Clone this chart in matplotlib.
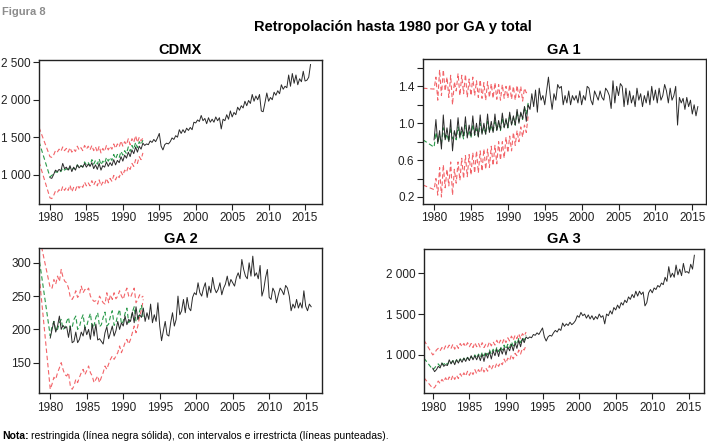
import numpy as np
import matplotlib
matplotlib.use("Agg")
from matplotlib import pyplot as plt
from matplotlib.ticker import FuncFormatter

plt.rcParams["font.family"] = ["Liberation Sans Narrow", "Liberation Sans", "DejaVu Sans"]

# trimestres: serie restringida 1980T1-2015T4, intervalos 1980T1-1992T4 (+ punto inicial)
anios = np.arange(1980, 2016, 0.25)
anios_ic = np.arange(1980, 1993, 0.25)

# ---------------- CDMX
cdmx = [960, 950, 1000, 1060, 1040, 1070, 1050, 1150, 1080, 1100, 1060, 1120,
        1040, 1100, 1060, 1130, 1090, 1120, 1100, 1150, 1100, 1140, 1110, 1160,
        1080, 1130, 1070, 1150, 1060, 1120, 1100, 1170, 1110, 1160, 1120, 1200,
        1130, 1190, 1160, 1240, 1180, 1260, 1220, 1300, 1240, 1330, 1280, 1370,
        1300, 1380, 1340, 1420, 1390, 1410, 1400, 1450, 1430, 1470, 1440, 1490,
        1550, 1380, 1330, 1400, 1420, 1410, 1440, 1490, 1470, 1520, 1500, 1600,
        1550, 1600, 1560, 1620, 1590, 1630, 1600, 1700, 1690, 1730, 1710, 1790,
        1720, 1750, 1680, 1760, 1700, 1740, 1700, 1770, 1720, 1760, 1610, 1740,
        1720, 1800, 1740, 1850, 1770, 1830, 1800, 1900, 1860, 1920, 1890, 1980,
        1920, 1990, 1950, 2070, 1980, 2050, 2000, 2070, 1850, 1840, 1960, 2090,
        1980, 2030, 2000, 2100, 2060, 2120, 2080, 2200, 2140, 2180, 2160, 2330,
        2180, 2350, 2220, 2330, 2200, 2280, 2240, 2380, 2250, 2260, 2300, 2470]
cdmx_irr = [1440,
            970, 990, 1010, 1040, 1030, 1060, 1040, 1090, 1060, 1080, 1050, 1100,
            1060, 1090, 1070, 1130, 1100, 1120, 1100, 1170, 1130, 1160, 1120, 1200,
            1140, 1190, 1140, 1210, 1130, 1180, 1150, 1230, 1180, 1230, 1190, 1270,
            1210, 1270, 1230, 1310, 1260, 1320, 1280, 1370, 1310, 1390, 1340, 1430,
            1360, 1440, 1400, 1460]
cdmx_sup = [1630,
            1240, 1230, 1260, 1320, 1300, 1340, 1310, 1370, 1320, 1350, 1300, 1360,
            1300, 1340, 1310, 1380, 1330, 1360, 1320, 1390, 1340, 1380, 1330, 1390,
            1320, 1370, 1300, 1380, 1290, 1350, 1310, 1390, 1330, 1380, 1340, 1410,
            1350, 1410, 1370, 1450, 1380, 1440, 1400, 1480, 1400, 1480, 1430, 1520,
            1430, 1500, 1450, 1490]
cdmx_inf = [1170,
            690, 680, 720, 780, 760, 800, 770, 840, 790, 830, 790, 860,
            770, 830, 790, 860, 820, 860, 830, 900, 850, 890, 850, 920,
            860, 910, 850, 930, 850, 900, 870, 950, 890, 950, 910, 990,
            930, 990, 960, 1040, 990, 1060, 1030, 1110, 1070, 1150, 1110, 1200,
            1150, 1240, 1200, 1290]

# ---------------- GA 1
ga1 = [0.82, 1.04, 0.78, 0.92, 0.72, 1.09, 0.82, 0.95, 0.80, 1.04, 0.70, 0.92,
       0.84, 1.06, 0.85, 0.96, 0.86, 1.07, 0.84, 0.98, 0.86, 1.08, 0.87, 1.00,
       0.85, 1.09, 0.88, 1.00, 0.88, 1.10, 0.90, 1.02, 0.90, 1.10, 0.92, 1.03,
       0.93, 1.11, 0.95, 1.05, 0.95, 1.12, 0.98, 1.08, 0.98, 1.15, 1.00, 1.12,
       1.05, 1.18, 1.02, 1.20, 1.15, 1.32, 1.18, 1.36, 1.12, 1.38, 1.25, 1.30,
       1.20, 1.35, 1.50, 1.30, 1.15, 1.32, 1.25, 1.42, 1.38, 1.40, 1.20, 1.30,
       1.22, 1.35, 1.20, 1.30, 1.25, 1.30, 1.22, 1.35, 1.20, 1.30, 1.25, 1.40,
       1.38, 1.25, 1.20, 1.35, 1.30, 1.25, 1.35, 1.28, 1.25, 1.38, 1.35, 1.30,
       1.16, 1.46, 1.22, 1.40, 1.30, 1.43, 1.40, 1.18, 1.38, 1.20, 1.35, 1.22,
       1.30, 1.18, 1.38, 1.25, 1.32, 1.18, 1.30, 1.22, 1.35, 1.20, 1.40, 1.25,
       1.36, 1.22, 1.38, 1.25, 1.30, 1.42, 1.35, 1.22, 1.38, 1.25, 1.30, 1.40,
       0.98, 1.28, 1.22, 1.27, 1.15, 1.28, 1.18, 1.25, 1.10, 1.20, 1.08, 1.18]
ga1_irr = [0.82,
           0.74, 0.90, 0.80, 0.86, 0.78, 0.95, 0.82, 0.88, 0.80, 0.95, 0.83, 0.90,
           0.82, 0.96, 0.84, 0.91, 0.83, 0.98, 0.86, 0.92, 0.84, 0.99, 0.87, 0.94,
           0.86, 1.00, 0.89, 0.96, 0.88, 1.02, 0.91, 0.98, 0.90, 1.04, 0.93, 1.00,
           0.92, 1.06, 0.96, 1.03, 0.95, 1.09, 0.99, 1.06, 0.98, 1.12, 1.02, 1.10,
           1.04, 1.18, 1.10, 1.22]
ga1_sup = [1.38,
           1.37, 1.50, 1.25, 1.58, 1.30, 1.58, 1.35, 1.50, 1.28, 1.52, 1.20, 1.45,
           1.35, 1.54, 1.30, 1.52, 1.32, 1.53, 1.28, 1.48, 1.30, 1.50, 1.30, 1.46,
           1.28, 1.47, 1.27, 1.44, 1.25, 1.45, 1.28, 1.43, 1.27, 1.44, 1.26, 1.42,
           1.25, 1.42, 1.27, 1.40, 1.27, 1.42, 1.26, 1.40, 1.25, 1.41, 1.28, 1.40,
           1.24, 1.38, 1.33, 1.36]
ga1_inf = [0.33,
           0.28, 0.40, 0.22, 0.52, 0.20, 0.55, 0.30, 0.50, 0.32, 0.58, 0.22, 0.50,
           0.35, 0.58, 0.38, 0.62, 0.40, 0.65, 0.42, 0.66, 0.44, 0.68, 0.46, 0.70,
           0.46, 0.70, 0.48, 0.72, 0.50, 0.72, 0.52, 0.75, 0.54, 0.76, 0.56, 0.80,
           0.60, 0.80, 0.62, 0.85, 0.68, 0.86, 0.70, 0.90, 0.76, 0.92, 0.80, 0.96,
           0.85, 0.98, 0.90, 1.08]

# ---------------- GA 2
ga2 = [187, 200, 212, 196, 205, 220, 200, 206, 202, 204, 188, 205,
       180, 182, 196, 180, 185, 196, 190, 204, 192, 200, 185, 208,
       190, 208, 184, 186, 182, 178, 195, 204, 186, 195, 205, 190,
       198, 212, 200, 210, 205, 220, 207, 215, 212, 226, 210, 234,
       215, 222, 218, 232, 212, 225, 215, 238, 210, 222, 212, 240,
       205, 183, 198, 212, 192, 190, 210, 225, 205, 215, 250, 222,
       228, 245, 225, 248, 232, 228, 248, 255, 252, 270, 255, 250,
       262, 270, 248, 265, 255, 278, 262, 255, 260, 270, 252, 262,
       268, 280, 265, 275, 270, 265, 278, 285, 276, 305, 290, 280,
       276, 300, 280, 310, 280, 285, 276, 296, 250, 260, 278, 290,
       248, 245, 262, 256, 240, 252, 262, 258, 252, 266, 262, 250,
       228, 238, 232, 245, 232, 240, 232, 258, 235, 228, 238, 234]
ga2_irr = [312,
           190, 205, 212, 198, 200, 210, 215, 200, 202, 212, 218, 200,
           203, 215, 220, 200, 204, 215, 222, 202, 205, 216, 224, 202,
           206, 218, 225, 204, 207, 218, 226, 205, 208, 220, 228, 206,
           210, 222, 230, 208, 212, 224, 232, 210, 214, 226, 234, 212,
           215, 228, 236, 215]
ga2_sup = [345,
           262, 262, 275, 268, 280, 272, 290, 278, 272, 270, 262, 248,
           245, 250, 258, 248, 252, 265, 255, 260, 258, 262, 250, 245,
           242, 243, 238, 250, 245, 240, 238, 255, 240, 252, 245, 255,
           246, 250, 258, 250, 245, 255, 262, 250, 248, 255, 262, 240,
           245, 252, 248, 250]
ga2_inf = [290,
           110, 118, 128, 125, 135, 142, 150, 140, 132, 130, 135, 115,
           110, 115, 125, 120, 128, 135, 140, 132, 138, 145, 135, 130,
           120, 125, 130, 120, 128, 135, 145, 140, 148, 155, 160, 155,
           160, 165, 175, 165, 172, 180, 185, 178, 185, 195, 205, 195,
           205, 220, 230, 245]

# ---------------- GA 3
ga3 = [837, 795, 820, 860, 840, 900, 860, 880, 870, 940, 890, 930,
       880, 940, 900, 950, 910, 960, 920, 970, 930, 990, 940, 990,
       940, 1000, 930, 1010, 920, 1020, 960, 1040, 950, 1050, 990, 1070,
       980, 1080, 1010, 1090, 1000, 1100, 1050, 1130, 1050, 1150, 1080, 1180,
       1100, 1200, 1150, 1220, 1200, 1220, 1210, 1250, 1240, 1270, 1250, 1290,
       1330, 1220, 1170, 1220, 1240, 1230, 1270, 1300, 1280, 1320, 1300, 1390,
       1350, 1380, 1360, 1400, 1370, 1390, 1420, 1480, 1460, 1520, 1480, 1500,
       1450, 1490, 1440, 1480, 1430, 1470, 1440, 1500, 1460, 1480, 1380, 1500,
       1480, 1540, 1500, 1580, 1550, 1610, 1570, 1640, 1610, 1670, 1640, 1710,
       1680, 1740, 1700, 1780, 1720, 1780, 1740, 1770, 1600, 1640, 1760, 1800,
       1760, 1820, 1800, 1850, 1830, 1880, 1860, 1950, 1900, 2080, 1950, 2000,
       1950, 2100, 1980, 2050, 1970, 2120, 2010, 2020, 2000, 2110, 2050, 2220]
ga3_irr = [960,
           820, 840, 870, 890, 860, 900, 880, 910, 880, 920, 900, 930,
           900, 940, 910, 950, 920, 960, 930, 970, 940, 980, 950, 1000,
           960, 1010, 970, 1030, 990, 1040, 1000, 1060, 1010, 1070, 1030, 1090,
           1040, 1100, 1060, 1120, 1070, 1130, 1090, 1160, 1110, 1170, 1130, 1200,
           1150, 1210, 1180, 1240]
ga3_sup = [1180,
           1000, 1020, 1060, 1080, 1050, 1090, 1060, 1110, 1080, 1120, 1080, 1130,
           1070, 1120, 1080, 1140, 1100, 1140, 1100, 1150, 1100, 1140, 1090, 1150,
           1100, 1140, 1090, 1150, 1090, 1130, 1100, 1160, 1110, 1160, 1120, 1180,
           1130, 1180, 1140, 1200, 1150, 1210, 1170, 1230, 1180, 1240, 1200, 1260,
           1200, 1260, 1230, 1280]
ga3_inf = [720,
           590, 600, 640, 680, 650, 700, 670, 720, 680, 730, 690, 750,
           700, 750, 710, 770, 730, 780, 740, 800, 750, 800, 760, 820,
           770, 820, 780, 850, 790, 840, 800, 870, 820, 870, 840, 900,
           860, 910, 880, 950, 900, 960, 930, 1000, 950, 1020, 990, 1060,
           1010, 1080, 1060, 1120]

titulos = ["CDMX", "GA 1", "GA 2", "GA 3"]
inicio_ic = [1978.5, 1978.5, 1978.4, 1978.8]

rojo = "#f0494f"
verde = "#2a9a4a"


def miles(v, pos):
    return f"{v:,.0f}".replace(",", " ")


def un_decimal(v, pos):
    # en GA 1 solo se rotulan 0.2, 0.6, 1.0, 1.4
    if round(v * 10) % 4 == 2:
        return f"{v:.1f}"
    return ""


fig = plt.figure(figsize=(7.07, 4.43), dpi=100)

posiciones = [
    [0.0552, 0.5395, 0.400, 0.325],
    [0.598, 0.5395, 0.400, 0.327],
    [0.0556, 0.1122, 0.3995, 0.327],
    [0.5997, 0.1122, 0.3964, 0.326],
]
series = [
    (cdmx, cdmx_irr, cdmx_sup, cdmx_inf),
    (ga1, ga1_irr, ga1_sup, ga1_inf),
    (ga2, ga2_irr, ga2_sup, ga2_inf),
    (ga3, ga3_irr, ga3_sup, ga3_inf),
]
limites_y = [(608, 2530), (0.124, 1.695), (104, 321.6), (530, 2298)]
limites_x = [(1978.5, 2017.3), (1978.47, 2016.8), (1978.5, 2017.2), (1978.8, 2017.1)]
ticks_y = [[1000, 1500, 2000, 2500],
           [0.2, 0.4, 0.6, 0.8, 1.0, 1.2, 1.4, 1.6],
           [150, 200, 250, 300],
           [1000, 1500, 2000]]

for i in range(4):
    ax = fig.add_axes(posiciones[i])
    rest, irr, sup, inf = series[i]
    x_ic = np.concatenate([[inicio_ic[i]], anios_ic])
    ax.plot(x_ic, sup, color=rojo, lw=0.8, ls=(0, (4, 2.5)), alpha=0.85)
    ax.plot(x_ic, inf, color=rojo, lw=0.8, ls=(0, (4, 2.5)), alpha=0.85)
    ax.plot(x_ic, irr, color=verde, lw=0.8, ls=(0, (4, 2.5)))
    ax.plot(anios, rest, color="#2a2a2a", lw=0.7)

    ax.set_xlim(limites_x[i])
    ax.set_ylim(limites_y[i])
    ax.set_xticks(range(1980, 2016, 5))
    ax.set_yticks(ticks_y[i])
    if i == 1:
        ax.yaxis.set_major_formatter(FuncFormatter(un_decimal))
    else:
        ax.yaxis.set_major_formatter(FuncFormatter(miles))
    ax.tick_params(axis="both", direction="out", length=4, width=0.8,
                   labelsize=8.5, pad=2, colors="#222222")
    for s in ax.spines.values():
        s.set_linewidth(1.0)
        s.set_color("#222222")
    ax.set_title(titulos[i], fontsize=10.5, fontweight="bold", pad=4)

fig.text(0.003, 0.985, "Figura 8", fontsize=8, fontweight="bold",
         color="#8c8c8c", va="top", ha="left")
fig.text(0.555, 0.939, "Retropolación hasta 1980 por GA y total", fontsize=10.5,
         fontweight="bold", ha="center", va="center")
fig.text(0.003, 0.016, "Nota:", fontsize=7.5, fontweight="bold", ha="left", va="center")
fig.text(0.044, 0.016, "restringida (línea negra sólida), con intervalos e irrestricta (líneas punteadas).",
         fontsize=7.5, ha="left", va="center")

fig.savefig("out.png", dpi=100)
